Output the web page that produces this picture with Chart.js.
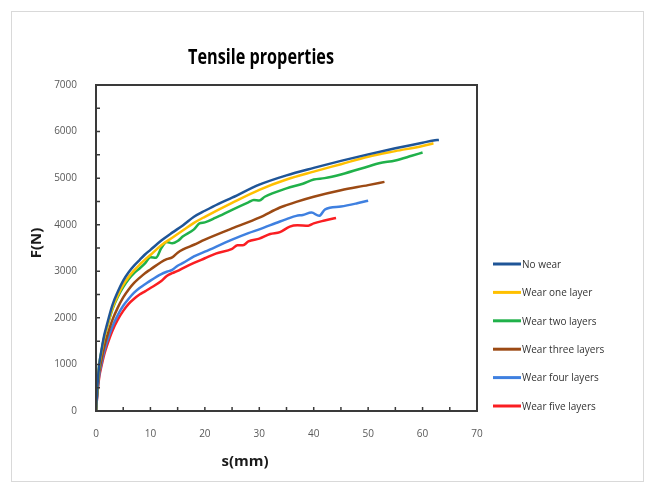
<!DOCTYPE html>
<html>
<head>
<meta charset="utf-8">
<script src="https://cdn.jsdelivr.net/npm/chart.js@4.4.0/dist/chart.umd.min.js"></script>
<style>
  html, body { margin: 0; padding: 0; background: #ffffff; }
  #wrap { width: 647px; height: 485px; }
</style>
</head>
<body>
<div id="wrap"><canvas id="chart" width="647" height="485"></canvas></div>
<script>
// series names and colours
var seriesNames = ['No wear', 'Wear one layer', 'Wear two layers', 'Wear three layers', 'Wear four layers', 'Wear five layers'];
var seriesColors = ['#1f5597', '#ffc000', '#20b14a', '#9c4a14', '#3f80e0', '#fa1e22'];

// values: s(mm) and F(N)
var noWearS = [0, 0.3, 0.6, 1, 1.5, 2, 3, 4, 5, 6, 7, 8, 9, 10, 12, 14, 16, 18, 20, 22.5, 25, 30, 35, 40, 45, 50, 55, 60, 62, 63];
var noWearF = [0, 600, 1000, 1300, 1620, 1850, 2270, 2560, 2800, 2980, 3120, 3240, 3360, 3460, 3660, 3830, 3990, 4170, 4300, 4450, 4580, 4860, 5060, 5220, 5370, 5510, 5640, 5760, 5810, 5820];

var oneLayerS = [0, 0.3, 0.6, 1, 1.5, 2, 3, 4, 5, 6, 7, 8, 9, 10, 12, 14, 16, 18, 20, 25, 30, 35, 40, 45, 50, 55, 60, 62];
var oneLayerF = [0, 580, 970, 1260, 1570, 1790, 2200, 2480, 2710, 2880, 3020, 3140, 3250, 3350, 3560, 3720, 3880, 4040, 4170, 4470, 4750, 4970, 5140, 5300, 5460, 5580, 5690, 5750];

var twoLayersS = [0, 0.3, 0.6, 1, 1.5, 2, 3, 4, 5, 6, 7, 8, 9, 10, 11, 12, 13, 14, 15, 16, 18, 19, 20, 22, 25, 28, 29, 30, 31, 35, 38, 40, 42, 45, 50, 52, 55, 58, 60];
var twoLayersF = [0, 600, 1000, 1280, 1580, 1790, 2180, 2450, 2660, 2830, 2960, 3060, 3170, 3300, 3290, 3500, 3630, 3600, 3650, 3750, 3900, 4030, 4050, 4150, 4320, 4480, 4530, 4520, 4600, 4780, 4880, 4970, 5000, 5080, 5250, 5320, 5380, 5480, 5550];

var threeLayersS = [0, 0.3, 0.6, 1, 1.5, 2, 3, 4, 5, 6, 7, 8, 9, 10, 12, 13, 14, 15, 16, 18, 20, 25, 30, 33.8, 35, 36.8, 40, 45, 50, 53];
var threeLayersF = [0, 500, 850, 1100, 1380, 1590, 1950, 2220, 2440, 2610, 2750, 2860, 2960, 3040, 3200, 3260, 3300, 3400, 3470, 3570, 3680, 3920, 4150, 4370, 4420, 4490, 4600, 4740, 4850, 4920];

var fourLayersS = [0, 0.3, 0.6, 1, 1.5, 2, 3, 4, 5, 6, 7, 8, 9, 10, 12, 13, 14, 15, 16, 18, 20, 25, 28, 30, 33.8, 35, 36.8, 38, 39.6, 41, 42.1, 45, 48, 50];
var fourLayersF = [0, 450, 780, 1020, 1280, 1480, 1810, 2060, 2260, 2410, 2540, 2640, 2720, 2800, 2940, 2990, 3030, 3120, 3180, 3320, 3420, 3680, 3820, 3900, 4070, 4120, 4190, 4210, 4260, 4190, 4330, 4390, 4460, 4516];

var fiveLayersS = [0, 0.3, 0.6, 1, 1.5, 2, 3, 4, 5, 6, 7, 8, 9, 10, 12, 13, 14, 15, 16, 18, 20, 22, 25, 26, 27, 28, 30, 32, 33.8, 35.6, 37, 39, 40, 42, 44.1];
var fiveLayersF = [0, 420, 730, 960, 1210, 1400, 1720, 1960, 2150, 2300, 2410, 2500, 2570, 2640, 2790, 2900, 2960, 3010, 3070, 3180, 3280, 3380, 3480, 3560, 3560, 3640, 3700, 3800, 3840, 3960, 3990, 3980, 4030, 4090, 4144];

// axis settings
var xMin = 0, xMax = 70, xStep = 5, xLabelEvery = 10;
var yMin = 0, yMax = 7000, yStep = 500, yLabelEvery = 1000;

var chartTitle = 'Tensile properties';
var xTitle = 's(mm)';
var yTitle = 'F(N)';

function pares(sArr, fArr) {
  var out = [];
  for (var i = 0; i < sArr.length; i++) {
    out.push({ x: sArr[i], y: fArr[i] });
  }
  return out;
}

var allS = [noWearS, oneLayerS, twoLayersS, threeLayersS, fourLayersS, fiveLayersS];
var allF = [noWearF, oneLayerF, twoLayersF, threeLayersF, fourLayersF, fiveLayersF];

var datasets = [];
for (var i = 0; i < seriesNames.length; i++) {
  datasets.push({
    label: seriesNames[i],
    data: pares(allS[i], allF[i]),
    borderColor: seriesColors[i],
    backgroundColor: seriesColors[i],
    borderWidth: 2.5,
    pointRadius: 0,
    cubicInterpolationMode: 'monotone',
    fill: false
  });
}

// draws the outer frame, plot box, inward ticks, titles and legend
var decoPlugin = {
  id: 'deco',
  beforeDraw: function (chart) {
    var ctx = chart.ctx;
    ctx.save();
    ctx.fillStyle = '#ffffff';
    ctx.fillRect(0, 0, chart.width, chart.height);
    ctx.strokeStyle = '#d9d9d9';
    ctx.lineWidth = 1;
    ctx.strokeRect(11.5, 11.5, 632, 470);
    ctx.restore();
  },
  afterDraw: function (chart) {
    var ctx = chart.ctx;
    var a = chart.chartArea;
    var xs = chart.scales.x;
    var ys = chart.scales.y;
    ctx.save();

    // plot box
    ctx.strokeStyle = '#3a3a3a';
    ctx.lineWidth = 2;
    ctx.strokeRect(a.left, a.top, a.right - a.left, a.bottom - a.top);

    // inward ticks
    ctx.lineWidth = 1.5;
    ctx.beginPath();
    for (var v = xMin + xStep; v < xMax; v += xStep) {
      var px = xs.getPixelForValue(v);
      ctx.moveTo(px, a.bottom);
      ctx.lineTo(px, a.bottom - 4);
    }
    for (var w = yMin + yStep; w < yMax; w += yStep) {
      var py = ys.getPixelForValue(w);
      ctx.moveTo(a.left, py);
      ctx.lineTo(a.left + 4, py);
    }
    ctx.stroke();

    // chart title
    ctx.fillStyle = '#000000';
    ctx.textAlign = 'center';
    ctx.textBaseline = 'middle';
    ctx.font = 'bold 21px "Open Sans"';
    var tw = ctx.measureText(chartTitle).width;
    ctx.save();
    ctx.translate(261, 58);
    ctx.scale(146 / tw, 1);
    ctx.fillText(chartTitle, 0, 0);
    ctx.restore();

    // axis titles
    ctx.font = 'bold 15px "Open Sans"';
    ctx.fillStyle = '#1a1a1a';
    ctx.fillText(xTitle, 245, 462);
    ctx.save();
    ctx.translate(37, 243);
    ctx.rotate(-Math.PI / 2);
    ctx.fillText(yTitle, 0, 0);
    ctx.restore();

    // legend
    ctx.textAlign = 'left';
    ctx.font = '10px "Open Sans"';
    for (var k = 0; k < seriesNames.length; k++) {
      var ly = 264 + k * 28.4;
      ctx.strokeStyle = seriesColors[k];
      ctx.lineWidth = 3;
      ctx.beginPath();
      ctx.moveTo(493, ly);
      ctx.lineTo(521, ly);
      ctx.stroke();
      ctx.fillStyle = '#333333';
      ctx.fillText(seriesNames[k], 522, ly + 1);
    }
    ctx.restore();
  }
};

var ctx = document.getElementById('chart').getContext('2d');
var chart = new Chart(ctx, {
  type: 'line',
  data: { datasets: datasets },
  options: {
    responsive: false,
    animation: false,
    layout: { padding: { top: 85, right: 170, bottom: 0, left: 0 } },
    plugins: {
      legend: { display: false },
      title: { display: false },
      tooltip: { enabled: false }
    },
    scales: {
      x: {
        type: 'linear',
        min: xMin,
        max: xMax,
        grid: { display: false },
        border: { display: false },
        afterFit: function (scale) { scale.height = 74; },
        ticks: {
          stepSize: xStep,
          padding: 9,
          color: '#595959',
          font: { family: 'Open Sans', size: 10 },
          maxRotation: 0,
          autoSkip: false,
          callback: function (value) { return value % xLabelEvery === 0 ? value : ''; }
        }
      },
      y: {
        type: 'linear',
        min: yMin,
        max: yMax,
        grid: { display: false },
        border: { display: false },
        afterFit: function (scale) { scale.width = 96; },
        ticks: {
          stepSize: yStep,
          padding: 11,
          color: '#595959',
          font: { family: 'Open Sans', size: 10 },
          autoSkip: false,
          callback: function (value) { return value % yLabelEvery === 0 ? value : ''; }
        }
      }
    }
  },
  plugins: [decoPlugin]
});
</script>
</body>
</html>
